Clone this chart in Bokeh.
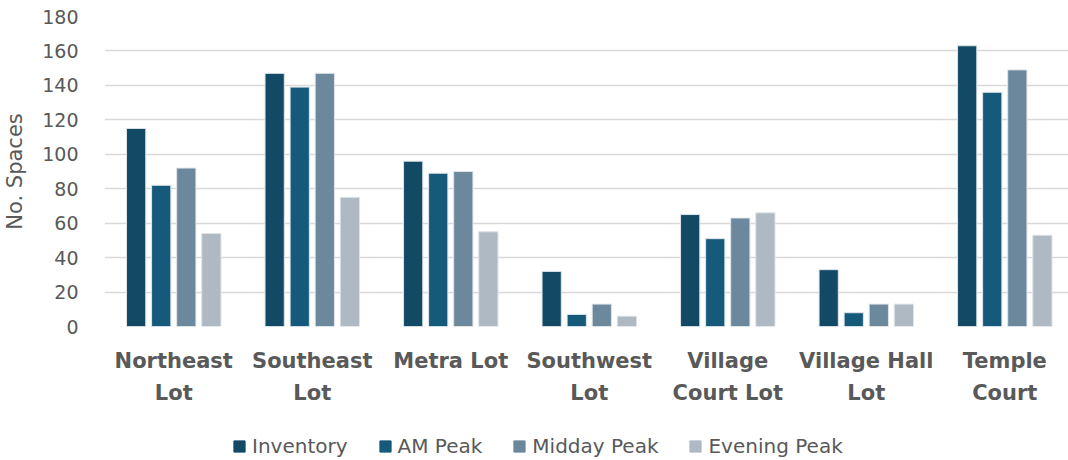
from bokeh.plotting import figure
from bokeh.models import ColumnDataSource, Range1d, FixedTicker, Legend
from bokeh.layouts import column
from bokeh.transform import dodge
from bokeh.embed import file_html
from bokeh.resources import INLINE

categories = ["Northeast\nLot", "Southeast\nLot", "Metra Lot", "Southwest\nLot",
              "Village\nCourt Lot", "Village Hall\nLot", "Temple\nCourt"]
series_names = ["Inventory", "AM Peak", "Midday Peak", "Evening Peak"]
inventory = [115, 147, 96, 32, 65, 33, 163]
am_peak = [82, 139, 89, 7, 51, 8, 136]
midday_peak = [92, 147, 90, 13, 63, 13, 149]
evening_peak = [54, 75, 55, 6, 66, 13, 53]
y_ticks = [0, 20, 40, 60, 80, 100, 120, 140, 160, 180]

colors = ["#124A66", "#155A7B", "#6B889D", "#AFB9C4"]
FONT = "DejaVu Sans"
TXT = "#595959"

idx = list(range(len(categories)))
src = ColumnDataSource(dict(x=idx, s0=inventory, s1=am_peak, s2=midday_peak, s3=evening_peak))
cols = ["s0", "s1", "s2", "s3"]

p = figure(width=1068, height=410, output_backend="svg", toolbar_location=None,
           x_range=Range1d(-0.5, 6.46), y_range=Range1d(0, 180),
           min_border_left=104, min_border_top=16, min_border_right=0, min_border_bottom=84)
p.outline_line_color = None
p.background_fill_color = "white"
p.border_fill_color = "white"

step = 0.181
bw = 0.139
for k, (col, c) in enumerate(zip(cols, colors)):
    off = (k - 1.5) * step
    p.vbar(x=dodge("x", off, range=p.x_range), top=col, width=bw, bottom=0, source=src,
           fill_color=c, line_color="#dfe4e8", line_width=1)

# axes
p.xaxis.ticker = FixedTicker(ticks=idx)
p.xaxis.major_label_overrides = {i: c for i, c in zip(idx, categories)}
p.xaxis.major_label_text_font = FONT
p.xaxis.major_label_text_font_style = "bold"
p.xaxis.major_label_text_font_size = "21px"
p.xaxis.major_label_text_color = TXT
p.xaxis.major_label_text_line_height = 1.35
p.xaxis.major_label_standoff = 16
p.xaxis.axis_line_color = None
p.xaxis.major_tick_line_color = None
p.xaxis.minor_tick_line_color = None

p.yaxis.ticker = FixedTicker(ticks=y_ticks)
p.yaxis.major_label_text_font = FONT
p.yaxis.major_label_text_font_size = "19px"
p.yaxis.major_label_text_color = TXT
p.yaxis.major_label_standoff = 20
p.yaxis.axis_line_color = None
p.yaxis.major_tick_line_color = None
p.yaxis.minor_tick_line_color = None
p.yaxis.axis_label = "No. Spaces"
p.yaxis.axis_label_text_font = FONT
p.yaxis.axis_label_text_font_style = "normal"
p.yaxis.axis_label_text_font_size = "21px"
p.yaxis.axis_label_text_color = TXT
p.yaxis.axis_label_standoff = 12

p.xgrid.grid_line_color = None
p.ygrid.ticker = FixedTicker(ticks=y_ticks)
p.ygrid.grid_line_color = "#D9D9D9"
p.ygrid.grid_line_width = 1.5

# legend strip (proxy renderers drawn off-screen from the same data)
p2 = figure(width=1068, height=50, output_backend="svg", toolbar_location=None,
            x_range=Range1d(-30, -29), y_range=Range1d(0, 1),
            min_border_left=0, min_border_top=0, min_border_right=0, min_border_bottom=0)
p2.outline_line_color = None
p2.axis.visible = False
p2.grid.visible = False
items = []
for name, col, c in zip(series_names, cols, colors):
    r = p2.vbar(x="x", top=col, width=bw, source=src, fill_color=c, line_color=c)
    items.append((name, [r]))
legend = Legend(items=items, orientation="horizontal", location=(128, 2),
                label_text_font=FONT, label_text_font_size="20px", label_text_color=TXT,
                glyph_width=14, glyph_height=14, label_standoff=6, spacing=30,
                padding=0, margin=0, border_line_color=None, background_fill_alpha=0)
p2.add_layout(legend, "center")

layout = column(p, p2, spacing=0)
open("out.html", "w").write(file_html(layout, INLINE))
